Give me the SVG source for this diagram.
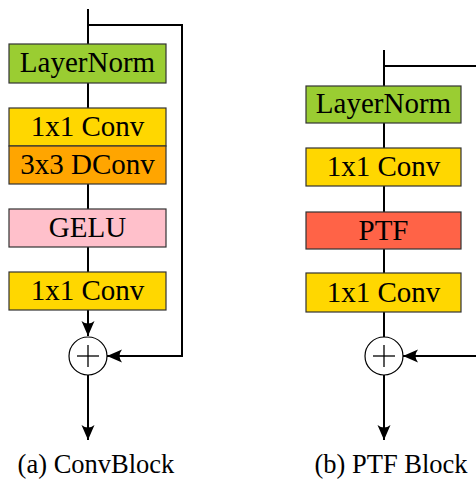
<svg xmlns="http://www.w3.org/2000/svg" width="476" height="481" viewBox="0 0 476 481" font-family="'Liberation Serif', 'Times New Roman', serif">
  <style>
    .box { stroke: #333; stroke-width: 1.2; }
    .lbl { font-size: 29px; text-anchor: middle; fill: #000; }
    .cap { font-size: 26.5px; text-anchor: middle; fill: #000; }
    .wire { fill: none; stroke: #000; stroke-width: 2; }
    .sum { fill: #fff; stroke: #000; stroke-width: 1.2; }
    .plus { stroke: #000; stroke-width: 1.3; }
  </style>
  <defs>
    <marker id="arrow" markerUnits="userSpaceOnUse" markerWidth="16" markerHeight="14" viewBox="-15 -7 16 14" refX="0" refY="0" orient="auto">
      <path d="M0,0 L-15,-6.5 Q-10,0 -15,6.5 Z" fill="#000"/>
    </marker>
  </defs>

  <!-- connectors -->
  <g id="connectors">
    <!-- (a) main path -->
    <line class="wire" x1="88" y1="9" x2="88" y2="44"/>
    <line class="wire" x1="88" y1="83" x2="88" y2="108"/>
    <line class="wire" x1="88" y1="184" x2="88" y2="209"/>
    <line class="wire" x1="88" y1="247" x2="88" y2="272"/>
    <line class="wire" x1="88" y1="310" x2="88" y2="336" marker-end="url(#arrow)"/>
    <line class="wire" x1="88" y1="375" x2="88" y2="440" marker-end="url(#arrow)"/>
    <!-- (a) skip path -->
    <polyline class="wire" points="88,25 182,25 182,356 107,356" marker-end="url(#arrow)"/>

    <!-- (b) main path -->
    <line class="wire" x1="384" y1="50" x2="384" y2="86"/>
    <line class="wire" x1="384" y1="123" x2="384" y2="148"/>
    <line class="wire" x1="384" y1="186" x2="384" y2="212"/>
    <line class="wire" x1="384" y1="249" x2="384" y2="273"/>
    <line class="wire" x1="384" y1="312" x2="384" y2="337"/>
    <line class="wire" x1="384" y1="375" x2="384" y2="440" marker-end="url(#arrow)"/>
    <!-- (b) skip path -->
    <line class="wire" x1="384" y1="66" x2="477" y2="66"/>
    <line class="wire" x1="477" y1="356" x2="403" y2="356" marker-end="url(#arrow)"/>
  </g>

  <!-- (a) ConvBlock -->
  <g id="a-layernorm">
    <rect class="box" x="9" y="44" width="157" height="39" fill="#9ACD32"/>
    <text class="lbl" x="87.5" y="72">LayerNorm</text>
  </g>
  <g id="a-conv1">
    <rect class="box" x="9" y="108" width="157" height="38" fill="#FFD700"/>
    <text class="lbl" x="87.5" y="136">1x1 Conv</text>
  </g>
  <g id="a-dconv">
    <rect class="box" x="9" y="146" width="157" height="38" fill="#FFA500"/>
    <text class="lbl" x="87.5" y="174">3x3 DConv</text>
  </g>
  <g id="a-gelu">
    <rect class="box" x="9" y="209" width="157" height="38" fill="#FFC0CB"/>
    <text class="lbl" x="87.5" y="237">GELU</text>
  </g>
  <g id="a-conv2">
    <rect class="box" x="9" y="272" width="157" height="38" fill="#FFD700"/>
    <text class="lbl" x="87.5" y="300">1x1 Conv</text>
  </g>
  <g id="a-sum">
    <circle class="sum" cx="88" cy="356" r="19"/>
    <line class="plus" x1="77" y1="356" x2="99" y2="356"/>
    <line class="plus" x1="88" y1="345" x2="88" y2="367"/>
  </g>
  <g id="a-caption">
    <text class="cap" x="96" y="473">(a) ConvBlock</text>
  </g>

  <!-- (b) PTF Block -->
  <g id="b-layernorm">
    <rect class="box" x="306" y="86" width="155" height="37" fill="#9ACD32"/>
    <text class="lbl" x="383.5" y="113">LayerNorm</text>
  </g>
  <g id="b-conv1">
    <rect class="box" x="306" y="148" width="155" height="38" fill="#FFD700"/>
    <text class="lbl" x="383.5" y="176">1x1 Conv</text>
  </g>
  <g id="b-ptf">
    <rect class="box" x="306" y="212" width="155" height="37" fill="#FF6347"/>
    <text class="lbl" x="383.5" y="240">PTF</text>
  </g>
  <g id="b-conv2">
    <rect class="box" x="306" y="273" width="155" height="39" fill="#FFD700"/>
    <text class="lbl" x="383.5" y="302">1x1 Conv</text>
  </g>
  <g id="b-sum">
    <circle class="sum" cx="384" cy="356" r="19"/>
    <line class="plus" x1="373" y1="356" x2="395" y2="356"/>
    <line class="plus" x1="384" y1="345" x2="384" y2="367"/>
  </g>
  <g id="b-caption">
    <text class="cap" x="391" y="473">(b) PTF Block</text>
  </g>
</svg>
